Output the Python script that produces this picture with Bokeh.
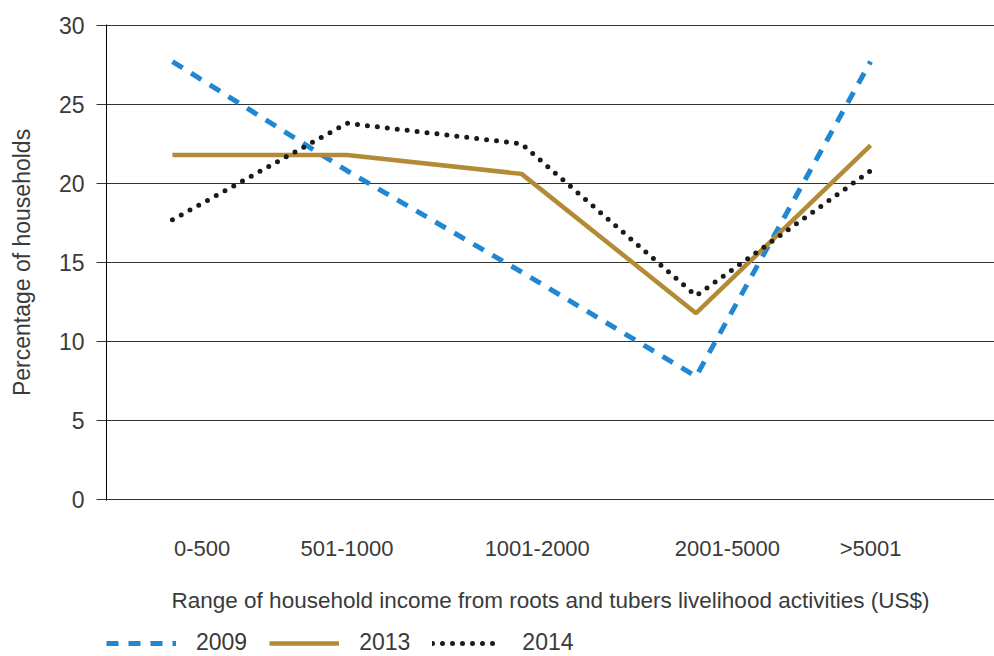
from bokeh.plotting import figure
from bokeh.layouts import column
from bokeh.models import FixedTicker, Legend, LegendItem, Range1d
from bokeh.embed import file_html
from bokeh.resources import INLINE

categories = ["0-500", "501-1000", "1001-2000", "2001-5000", ">5001"]
series_2009 = [27.7, 20.8, 14.4, 7.8, 27.7]
series_2013 = [21.8, 21.8, 20.6, 11.8, 22.4]
series_2014 = [17.7, 23.8, 22.5, 12.9, 20.8]
y_ticks = [0, 5, 10, 15, 20, 25, 30]
years = ["2009", "2013", "2014"]

x = list(range(len(categories)))
label_pos = [0.17, 1.0, 2.09, 3.18, 4.0]

FONT = "Liberation Sans"
TXT = "#3a3a3a"
styles = [
    dict(line_color="#2287d2", line_width=5, line_dash="12 10"),
    dict(line_color="#b38b37", line_width=4.5),
    dict(line_color="#1a1a1a", line_width=5, line_dash="0 10", line_cap="round", line_join="round"),
]

p = figure(width=994, height=620, output_backend="svg", toolbar_location=None,
           x_range=Range1d(-0.378, 4.71), y_range=Range1d(-0.04, 30.04),
           min_border_left=106, min_border_top=24, min_border_bottom=120, min_border_right=0)
p.outline_line_color = None
p.background_fill_color = "white"

p.xgrid.grid_line_color = None
p.ygrid.grid_line_color = "#333333"
p.ygrid.grid_line_width = 1
p.ygrid.ticker = FixedTicker(ticks=y_ticks)

p.yaxis.ticker = FixedTicker(ticks=y_ticks)
p.yaxis.axis_line_color = "black"
p.yaxis.major_tick_out = 10
p.yaxis.major_tick_in = 0
p.yaxis.major_tick_line_color = "#333333"
p.yaxis.minor_tick_line_color = None
p.yaxis.major_label_text_font = FONT
p.yaxis.major_label_text_font_size = "23px"
p.yaxis.major_label_text_color = TXT
p.yaxis.major_label_standoff = 12
p.yaxis.axis_label = "Percentage of households"
p.yaxis.axis_label_text_font = FONT
p.yaxis.axis_label_text_font_size = "23px"
p.yaxis.axis_label_text_font_style = "normal"
p.yaxis.axis_label_text_color = TXT
p.yaxis.axis_label_standoff = 21

p.xaxis.ticker = FixedTicker(ticks=label_pos)
p.xaxis.major_label_overrides = {pos: c for pos, c in zip(label_pos, categories)}
p.xaxis.axis_line_color = None
p.xaxis.major_tick_line_color = None
p.xaxis.minor_tick_line_color = None
p.xaxis.major_label_text_font = FONT
p.xaxis.major_label_text_font_size = "22px"
p.xaxis.major_label_text_color = TXT
p.xaxis.major_label_standoff = 29
p.xaxis.axis_label = "Range of household income from roots and tubers livelihood activities (US$)"
p.xaxis.axis_label_text_font = FONT
p.xaxis.axis_label_text_font_size = "22.5px"
p.xaxis.axis_label_text_font_style = "normal"
p.xaxis.axis_label_text_color = TXT
p.xaxis.axis_label_standoff = 24

for ys, st in zip([series_2009, series_2013, series_2014], styles):
    p.line(x, ys, **st)

# legend strip below the chart
pl = figure(width=994, height=36, output_backend="svg", toolbar_location=None,
            x_range=Range1d(0, 1), y_range=Range1d(0, 1),
            min_border_left=0, min_border_right=0, min_border_top=0, min_border_bottom=0)
pl.axis.visible = False
pl.grid.visible = False
pl.outline_line_color = None
items = []
for yr, st in zip(years, styles):
    r = pl.line([5, 6], [5, 6], **st)
    items.append(LegendItem(label=yr, renderers=[r]))
legend = Legend(items=items, orientation="horizontal", location=(0, 0),
                glyph_width=70, glyph_height=20, label_standoff=20, spacing=22,
                padding=0, margin=0, border_line_color=None, background_fill_alpha=0,
                label_text_font=FONT, label_text_font_size="23px", label_text_color=TXT)
pl.add_layout(legend, "center")

layout = column(p, pl, spacing=0)
open("out.html", "w").write(file_html(layout, INLINE))
